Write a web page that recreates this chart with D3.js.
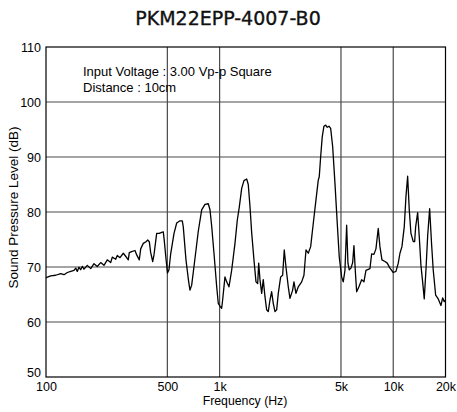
<!DOCTYPE html>
<html>
<head>
<meta charset="utf-8">
<script src="https://cdn.jsdelivr.net/npm/d3@7"></script>
<style>
  html, body { margin: 0; padding: 0; background: #fff; }
  svg { display: block; }
</style>
</head>
<body>
<svg id="chart" width="457" height="412"></svg>
<script>
// ---- data ----
const title = "PKM22EPP-4007-B0";
const noteLines = ["Input Voltage : 3.00 Vp-p Square", "Distance : 10cm"];
const xLabel = "Frequency (Hz)";
const yLabel = "Sound Pressure Level (dB)";

const xTickValues = [100, 500, 1000, 5000, 10000, 20000];
const xTickLabels = ["100", "500", "1k", "5k", "10k", "20k"];
const xGridValues = [500, 1000, 5000, 10000];
const yTickValues = [50, 60, 70, 80, 90, 100, 110];
const yGridValues = [60, 70, 80, 90, 100];

const freq = [
  100, 101, 106.4, 113.7, 121.5, 127, 132.7, 138.8, 145, 148.3, 151.4, 154.9, 158.4, 161.8, 165.5,
  172.9, 180.9, 189, 197.4, 206.5, 215.8, 225.4, 235.9, 240.9, 252, 257.4, 266.8,
  278.7, 287, 297.8, 301.8, 311.5, 325.5, 333, 344.6, 351.1, 363.4, 376.7, 385.3, 393.5,
  400.9, 411.6, 418.8, 434, 449.2, 463.7, 473.7, 480, 491, 500.9, 510.9, 522.6, 546.2,
  565.9, 591.2, 609.5, 617.6, 640.1, 663.4, 675, 690.4, 714.5, 753.5, 788.3, 823.6, 860.5,
  880.1, 900.2, 928, 962, 982.2, 1005, 1027.5, 1041, 1073.5, 1098, 1132, 1173, 1226, 1264,
  1298, 1340, 1381, 1432, 1462, 1496, 1530, 1577, 1620, 1657, 1679, 1708, 1747, 1784, 1825,
  1866, 1906, 1950, 1994, 2037, 2084, 2131, 2177, 2247, 2307, 2357, 2411, 2486, 2542, 2634,
  2680, 2753, 2838, 2969, 3060, 3144, 3241, 3345, 3462, 3589, 3700, 3749, 3819, 3901, 3990,
  4081, 4169, 4264, 4361, 4478, 4617, 4760, 4888, 5045, 5153, 5271, 5391, 5485, 5581, 5708,
  5838, 5939, 6042, 6155, 6345, 6577, 6781, 6964, 7343, 7510, 7742, 7951, 8196, 8383, 8610,
  8960, 9237, 9574, 10003, 10368, 10688, 10932, 11225, 11573, 11837, 12106, 12368, 12648,
  13040, 13283, 13460, 13822, 14118, 14441, 14770, 15086, 15430, 15782, 16207, 16642, 17000,
  17548, 18164, 18827, 19257, 19668, 20000
];
const spl = [
  68.0, 68.1, 68.4, 68.5, 68.8, 68.6, 69.0, 69.2, 69.4, 69.8, 69.2, 69.95, 69.5, 70.1, 69.6,
  70.3, 69.7, 70.6, 70.1, 70.8, 70.3, 71.3, 70.8, 71.8, 71.4, 72.1, 71.7,
  72.5, 72.0, 71.3, 72.6, 72.8, 73.0, 72.2, 71.3, 73.3, 74.3, 74.6, 74.9, 74.6,
  72.6, 71.0, 72.2, 76.1, 76.1, 76.3, 76.4, 74.8, 71.5, 68.9, 69.5, 72.4, 76.1,
  78.0, 78.4, 78.4, 77.3, 71.3, 67.3, 65.8, 66.7, 70.5, 76.5, 80.4, 81.4, 81.5,
  80.4, 77.4, 72.5, 66.4, 63.4, 62.9, 62.5, 64.0, 68.2, 67.3, 66.4, 69.4, 74.3, 78.5,
  80.9, 84.3, 85.7, 86.0, 85.0, 81.0, 76.2, 71.3, 67.3, 67.0, 70.7, 67.7, 65.2, 67.7, 64.6,
  62.2, 61.9, 64.0, 65.5, 63.4, 61.9, 62.2, 65.2, 68.2, 68.5, 73.1, 70.0, 66.4, 64.3, 65.8,
  67.3, 65.2, 66.4, 67.3, 68.5, 73.1, 72.5, 73.7, 77.9, 82.2, 85.8, 86.4, 90.05, 93.7, 95.6,
  95.8, 95.4, 95.6, 95.2, 91.9, 85.2, 77.9, 71.8, 68.2, 67.3, 69.4, 77.6, 70.7, 69.5, 69.8,
  70.8, 73.9, 69.5, 65.5, 66.4, 67.7, 67.3, 69.4, 69.7, 72.4, 72.3, 73.3, 77.0, 73.7, 71.3,
  71.0, 70.7, 69.8, 69.0, 69.2, 70.7, 72.5, 73.7, 77.3, 82.8, 86.5, 80.4, 76.1,
  74.6, 74.6, 77.3, 79.9, 75.6, 70.3, 67.3, 64.2, 69.4, 75.6, 80.6, 74.0, 69.4,
  64.9, 64.2, 63.0, 64.4, 63.7, 64.0
];

// ---- drawing ----
const svg = d3.select("#chart");
const W = 457, H = 412;
const m = { left: 46, right: 11.5, top: 47, bottom: 35 };

const x = d3.scaleLog().domain([100, 20000]).range([m.left, W - m.right]);
const y = d3.scaleLinear().domain([50, 110]).range([H - m.bottom, m.top]);

const FONT = "'Liberation Sans', Arial, sans-serif";

// title
svg.append("text")
  .attr("x", 228).attr("y", 25)
  .attr("text-anchor", "middle")
  .attr("font-family", "'DejaVu Sans', sans-serif")
  .attr("font-size", 19)
  .attr("fill", "#111")
  .attr("stroke", "#111").attr("stroke-width", 0.35)
  .text(title);

// grid
const g = svg.append("g");
g.selectAll("line.hg").data(yGridValues).join("line")
  .attr("x1", x(100)).attr("x2", x(20000))
  .attr("y1", d => y(d)).attr("y2", d => y(d))
  .attr("stroke", "#4a4a4a").attr("stroke-width", 1.2);
g.selectAll("line.vg").data(xGridValues).join("line")
  .attr("x1", d => x(d)).attr("x2", d => x(d))
  .attr("y1", y(50)).attr("y2", y(110))
  .attr("stroke", "#4a4a4a").attr("stroke-width", 1.2);

// frame
svg.append("rect")
  .attr("x", x(100)).attr("y", y(110))
  .attr("width", x(20000) - x(100)).attr("height", y(50) - y(110))
  .attr("fill", "none").attr("stroke", "#000").attr("stroke-width", 1.2);

// axes
const xAxis = d3.axisBottom(x).tickValues(xTickValues)
  .tickFormat((d, i) => xTickLabels[i]).tickSize(0).tickPadding(5);
const gx = svg.append("g").attr("transform", `translate(0,${y(50)})`).call(xAxis);
gx.select(".domain").remove();
gx.selectAll("text").attr("font-family", FONT).attr("font-size", 12.5).attr("fill", "#000");

const yAxis = d3.axisLeft(y).tickValues(yTickValues).tickSize(0).tickPadding(5);
const gy = svg.append("g").attr("transform", `translate(${x(100)},0)`).call(yAxis);
gy.select(".domain").remove();
gy.selectAll("text").attr("font-family", FONT).attr("font-size", 12.5).attr("fill", "#000");
// lowest label sits slightly above its line, clear of the x labels
gy.selectAll(".tick").filter(d => d === 50).select("text").attr("y", -5);

// axis titles
svg.append("text")
  .attr("x", 245).attr("y", 405)
  .attr("text-anchor", "middle")
  .attr("font-family", FONT).attr("font-size", 12.3)
  .text(xLabel);
svg.append("text")
  .attr("transform", `translate(18,207.5) rotate(-90)`)
  .attr("text-anchor", "middle")
  .attr("font-family", FONT).attr("font-size", 13.5)
  .text(yLabel);

// note
svg.append("text")
  .attr("font-family", FONT).attr("font-size", 13)
  .selectAll("tspan").data(noteLines).join("tspan")
  .attr("x", 83).attr("y", (d, i) => 76 + i * 16)
  .text(d => d);

// curve
const pts = freq.map((f, i) => [f, spl[i]]);
svg.append("path")
  .datum(pts)
  .attr("fill", "none")
  .attr("stroke", "#000")
  .attr("stroke-width", 1.3)
  .attr("stroke-linejoin", "round")
  .attr("d", d3.line().x(d => x(d[0])).y(d => y(d[1])));
</script>
</body>
</html>
